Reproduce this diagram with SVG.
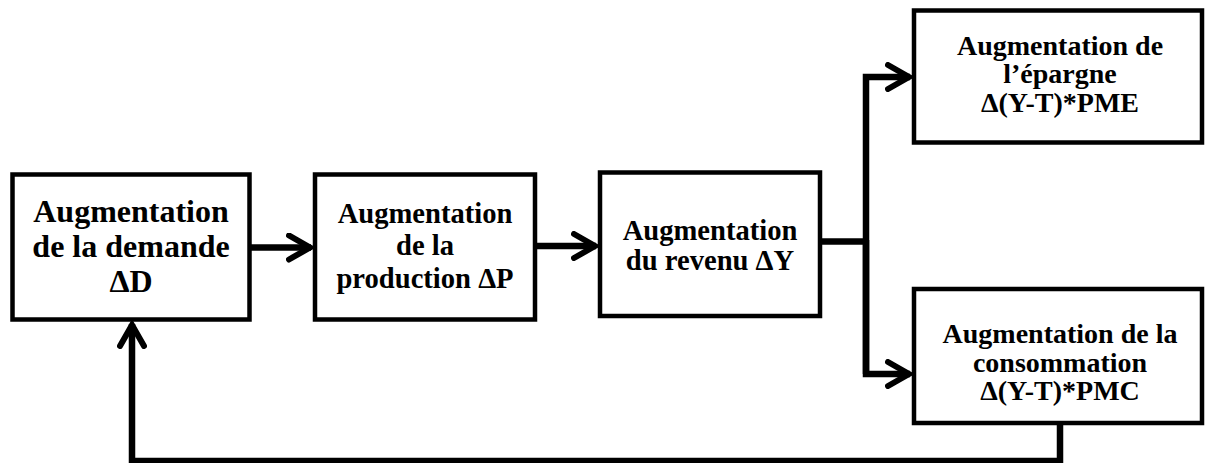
<svg xmlns="http://www.w3.org/2000/svg" width="1207" height="463" viewBox="0 0 1207 463">
  <style>
    .box { fill: #ffffff; stroke: #000000; stroke-width: 4.5; }
    .lbl { font-weight: bold; fill: #000000; text-anchor: middle; }
    .big { font-size: 32px; }
    .mid { font-size: 28.6px; }
    .sm { font-size: 28px; }
    .wire { fill: none; stroke: #000000; stroke-width: 6.5; stroke-linejoin: miter; }
  </style>
  <defs>
    <!-- open chevron arrowhead -->
    <marker id="chev" markerUnits="userSpaceOnUse" viewBox="0 0 30 30" markerWidth="30" markerHeight="30" refX="25" refY="15" orient="auto">
      <path d="M3,3 L24,15 L3,27" fill="none" stroke="#000000" stroke-width="6" stroke-linecap="round" stroke-linejoin="miter"/>
    </marker>
  </defs>

  <rect width="1207" height="463" fill="#ffffff"/>

  <g id="connectors">
    <path class="wire" d="M250,247.5 L311,247.5" marker-end="url(#chev)"/>
    <path class="wire" d="M535,246 L596,246" marker-end="url(#chev)"/>
    <path class="wire" d="M820,241.5 L866,241.5"/>
    <path class="wire" d="M866,374 L866,77 L910,77" marker-end="url(#chev)"/>
    <path class="wire" d="M866,240 L866,374 L910,374" marker-end="url(#chev)"/>
    <path class="wire" d="M1060,424 L1060,461 L132,461 L132,324" marker-end="url(#chev)"/>
  </g>

  <g font-family="Liberation Serif, Tinos, Times New Roman, DejaVu Serif, serif">
    <g id="demande">
      <rect class="box" x="12.5" y="174.5" width="237" height="145"/>
      <text class="lbl big" x="131" y="222">Augmentation</text>
      <text class="lbl big" x="131" y="257">de la demande</text>
      <text class="lbl big" x="131" y="292">ΔD</text>
    </g>

    <g id="production">
      <rect class="box" x="315" y="174.5" width="220" height="145"/>
      <text class="lbl mid" x="425" y="223">Augmentation</text>
      <text class="lbl mid" x="425" y="255">de la</text>
      <text class="lbl mid" x="425" y="288">production ΔP</text>
    </g>

    <g id="revenu">
      <rect class="box" x="600" y="172.5" width="220" height="143.5"/>
      <text class="lbl mid" x="710" y="240">Augmentation</text>
      <text class="lbl mid" x="710" y="270">du revenu ΔY</text>
    </g>

    <g id="epargne">
      <rect class="box" x="914" y="10.5" width="288" height="132"/>
      <text class="lbl sm" x="1060" y="55">Augmentation de</text>
      <text class="lbl sm" x="1060" y="83">l’épargne</text>
      <text class="lbl sm" x="1060" y="112">Δ(Y-T)*PME</text>
    </g>

    <g id="consommation">
      <rect class="box" x="914" y="289" width="288" height="134"/>
      <text class="lbl sm" x="1060" y="343">Augmentation de la</text>
      <text class="lbl sm" x="1060" y="372">consommation</text>
      <text class="lbl sm" x="1060" y="400">Δ(Y-T)*PMC</text>
    </g>
  </g>
</svg>
